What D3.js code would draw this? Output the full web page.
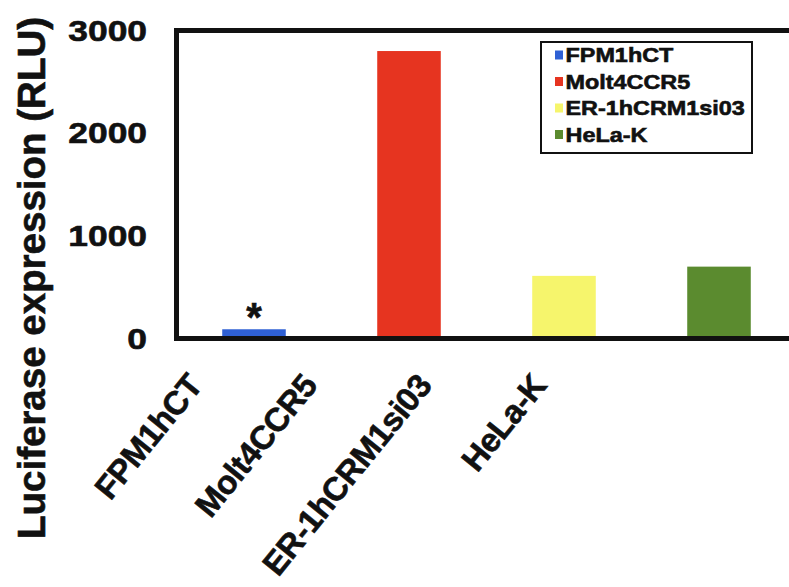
<!DOCTYPE html>
<html>
<head>
<meta charset="utf-8">
<script src="https://cdn.jsdelivr.net/npm/d3@7"></script>
<style>
  body { margin: 0; background: #fff; }
  text { font-family: "Liberation Sans", Arial, Helvetica, sans-serif; font-weight: bold; fill: #111; stroke: #111; stroke-width: 0.6px; }
</style>
</head>
<body>
<div id="chart"></div>
<script>
// data
const cells = ["FPM1hCT", "Molt4CCR5", "ER-1hCRM1si03", "HeLa-K"]
const expression = [90, 2800, 610, 700]
const barColors = ["#2f60d4", "#e63420", "#f6f56c", "#5b8b2f"]
const marks = ["*", "", "", ""]
const yTicks = [0, 1000, 2000, 3000]
const yTitle = "Luciferase expression (RLU)"

function setupChart() {

    const width = 789
    const height = 587
    // plot frame (right side runs off the picture)
    const left = 176.5, right = 796.5, top = 30.5, bottom = 338.5

    let svg = d3.select("#chart")
        .append("svg")
        .attr("width", width)
        .attr("height", height)

    let x = d3.scaleBand()
        .domain(cells)
        .range([left, right])
        .paddingInner(0.59)
        .paddingOuter(0.295)

    let y = d3.scaleLinear()
        .domain([0, 3000])
        .range([bottom, top])

    // labels under the axis sit on their own spacing
    let xLabel = d3.scalePoint()
        .domain(cells)
        .range([204, 548])

    let color = d3.scaleOrdinal()
        .domain(cells)
        .range(barColors)

    // bars
    svg.selectAll("bars")
        .data(cells)
        .enter()
        .append("rect")
        .attr("x", d => x(d))
        .attr("width", x.bandwidth())
        .attr("y", (d, i) => y(expression[i]))
        .attr("height", (d, i) => y(0) - y(expression[i]))
        .attr("fill", d => color(d))

    // significance mark
    svg.selectAll("marks")
        .data(cells)
        .enter()
        .append("text")
        .attr("x", d => x(d) + x.bandwidth() / 2)
        .attr("y", (d, i) => y(expression[i]) + 2)
        .attr("text-anchor", "middle")
        .style("font-size", "40px")
        .text((d, i) => marks[i])

    // frame
    svg.append("rect")
        .attr("x", left)
        .attr("y", top)
        .attr("width", right - left)
        .attr("height", bottom - top)
        .attr("fill", "none")
        .attr("stroke", "#111")
        .attr("stroke-width", 5)

    // y axis labels
    let yAxis = svg.append("g")
        .attr("transform", "translate(" + left + ",0)")
        .call(d3.axisLeft(y).tickValues(yTicks).tickSize(0).tickPadding(25).tickFormat(d3.format("d")))
    yAxis.select(".domain").remove()
    yAxis.selectAll("text")
        .style("font-size", "30px")
        .attr("fill", "#111")
        .attr("transform", "scale(1.18,1)")

    // y title
    svg.append("text")
        .attr("transform", "translate(45,278) rotate(-90)")
        .attr("text-anchor", "middle")
        .style("font-size", "38.5px")
        .text(yTitle)

    // category labels
    svg.selectAll("catLabels")
        .data(cells)
        .enter()
        .append("text")
        .attr("transform", d => "translate(" + xLabel(d) + ",386) rotate(-51)")
        .attr("text-anchor", "end")
        .style("font-size", "33px")
        .style("letter-spacing", "-0.5px")
        .text(d => d)

    // legend
    let legend = svg.append("g")
        .attr("transform", "translate(541,42)")
    legend.append("rect")
        .attr("width", 211)
        .attr("height", 111)
        .attr("fill", "#fff")
        .attr("stroke", "#111")
        .attr("stroke-width", 2)

    let row = d3.scalePoint()
        .domain(cells)
        .range([13, 92.5])

    let items = legend.selectAll("items")
        .data(cells)
        .enter()
        .append("g")
        .attr("transform", d => "translate(14," + row(d) + ")")
    items.append("rect")
        .attr("x", 0)
        .attr("y", -4.5)
        .attr("width", 8)
        .attr("height", 9)
        .attr("fill", d => color(d))
    items.append("text")
        .attr("x", 9)
        .attr("dy", "0.36em")
        .attr("transform", "scale(1.17,1)")
        .style("font-size", "20px")
        .text(d => d)
}

setupChart()
</script>
</body>
</html>
